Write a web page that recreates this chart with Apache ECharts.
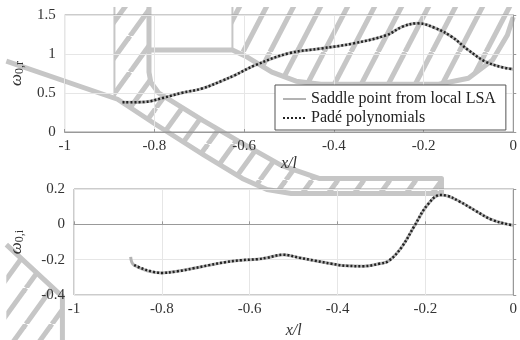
<!DOCTYPE html>
<html><head><meta charset="utf-8">
<script src="https://cdn.jsdelivr.net/npm/echarts@6/dist/echarts.min.js"></script>
<style>html,body{margin:0;padding:0;background:#fff}#c{width:520px;height:340px}</style>
</head><body><div id="c"></div>
<script>
// ---- data (x/l, omega) ----
const topX      = [-0.871,-0.823,-0.779,-0.74,-0.692,-0.648,-0.62,-0.575,-0.5,-0.429,-0.356,-0.282,-0.247,-0.213,-0.173,-0.137,-0.10,-0.063,-0.028,0];
const topPade   = [0.38,0.385,0.44,0.50,0.56,0.66,0.73,0.857,1.01,1.07,1.136,1.243,1.35,1.393,1.33,1.22,1.05,0.905,0.835,0.805];
const botX      = [-0.863,-0.801,-0.765,-0.728,-0.692,-0.655,-0.619,-0.582,-0.560,-0.524,-0.487,-0.451,-0.414,-0.378,-0.341,-0.305,-0.283,-0.254,-0.225,-0.195,-0.166,-0.151,-0.122,-0.086,-0.049,-0.012,0];
const botPade   = [-0.231,-0.275,-0.266,-0.249,-0.231,-0.214,-0.203,-0.197,-0.189,-0.172,-0.189,-0.206,-0.223,-0.235,-0.237,-0.223,-0.206,-0.129,-0.009,0.111,0.166,0.162,0.129,0.077,0.026,0.0,-0.005];
const botSaddleStart = [[-0.871,-0.184]];
const xTickLabels = ['-1','-0.8','-0.6','-0.4','-0.2','0'];
const seriesNames = ['Saddle point from local LSA','Padé polynomials'];

// ---- decorative hatched regions, in top-panel data coordinates ----
const regionAB = [[-0.889,1.603],[-0.812,1.603],[-0.812,0.767],[-0.808,0.639],[-0.790,0.497],[-0.692,0.150],[-0.604,-0.145],[-0.517,-0.428],[-0.433,-0.595],[-0.160,-0.595],[-0.160,-0.788],[-0.495,-0.788],[-0.549,-0.737],[-0.604,-0.595],[-0.692,-0.287],[-0.801,0.112],[-0.882,0.420],[-0.889,0.446]];
const edgeAB   = [[-0.812,1.603],[-0.812,0.767],[-0.808,0.639],[-0.790,0.497],[-0.692,0.150],[-0.604,-0.145],[-0.517,-0.428],[-0.433,-0.595],[-0.160,-0.595],[-0.160,-0.788],[-0.495,-0.788],[-0.549,-0.737],[-0.604,-0.595],[-0.692,-0.287],[-0.801,0.112],[-0.882,0.420],[-1.130,0.909]];
const edgeAthin = [[-0.889,1.603],[-0.889,0.446]];
const regionD  = [[-0.626,1.603],[0,1.603],[0,1.474],[-0.013,1.243],[-0.046,0.922],[-0.100,0.690],[-0.166,0.613],[-0.429,0.613],[-0.484,0.652],[-0.538,0.767],[-0.593,0.960],[-0.626,1.051]];
const edgeD    = [[-0.812,1.051],[-0.626,1.051],[-0.593,0.960],[-0.538,0.767],[-0.484,0.652],[-0.429,0.613],[-0.166,0.613],[-0.100,0.690],[-0.046,0.922],[-0.013,1.243],[0,1.474]];
const edgeDthin = [[-0.626,1.603],[-0.626,1.051]];
const regionC  = [[-1.130,-1.443],[-1.005,-2.111],[-1.005,-2.677],[-1.130,-2.677]];
const edgeC    = [[-1.130,-1.443],[-1.005,-2.111],[-1.005,-2.677]];

const zip = (xs, ys) => xs.map((x, i) => [x, ys[i]]);
const HATCH = '#c6c6c6';
function makePattern(w, h, lw) {
  const c = document.createElement('canvas'); c.width = w; c.height = h;
  const g = c.getContext('2d'); g.strokeStyle = HATCH; g.lineWidth = lw;
  for (const o of [-w, 0, w]) { g.beginPath(); g.moveTo(o, h); g.lineTo(o + w, 0); g.stroke(); }
  return { image: c, repeat: 'repeat' };
}
const patAB = makePattern(26, 36, 5);
const patD = makePattern(27, 52, 5);

const serif = '"Liberation Serif", "DejaVu Serif", "Times New Roman", serif';
const chart = echarts.init(document.getElementById('c'));

function xAx(idx) {
  return {
    gridIndex: idx, type: 'value', min: -1, max: 0, interval: 0.2,
    name: 'x/l', nameLocation: 'middle', nameGap: idx === 0 ? 24 : 28,
    nameTextStyle: { fontFamily: serif, fontStyle: 'italic', fontSize: 16, color: '#333' },
    axisLine: { lineStyle: { color: '#999' } },
    axisTick: { inside: true, length: 3, lineStyle: { color: '#999' } },
    axisLabel: { fontFamily: serif, fontSize: 15, color: '#333', margin: 7,
      formatter: v => xTickLabels[Math.round((v + 1) / 0.2)] },
    splitLine: { show: true, lineStyle: { color: '#e6e6e6' } }
  };
}
function yAx(idx, min, max, sub, gap) {
  return {
    gridIndex: idx, type: 'value', min: min, max: max, interval: idx === 0 ? 0.5 : 0.2,
    name: '{w|ω}{s|' + sub + '}', nameLocation: 'middle', nameGap: gap, nameRotate: 90,
    nameTextStyle: { color: '#333', rich: {
      w: { fontFamily: serif, fontStyle: 'italic', fontSize: 17, color: '#333' },
      s: { fontFamily: serif, fontSize: 12, color: '#333', verticalAlign: 'bottom', padding: [7, 0, 0, 0] } } },
    axisLine: { show: true, lineStyle: { color: '#999' } },
    axisTick: { show: true, inside: true, length: 3, lineStyle: { color: '#999' } },
    axisLabel: { fontFamily: serif, fontSize: 15, color: '#333', margin: 9 },
    splitLine: { show: true, lineStyle: { color: '#e6e6e6' } }
  };
}

function renderDeco(params, api) {
  const P = pts => pts.map(p => api.coord(p));
  const poly = (pts, pat) => ({ type: 'polygon', shape: { points: P(pts) }, style: { fill: pat, stroke: null } });
  const line = (pts, w) => ({ type: 'polyline', shape: { points: P(pts) }, style: { fill: null, stroke: HATCH, lineWidth: w, lineJoin: 'round' } });
  return { type: 'group', children: [
    poly(regionAB, patAB), poly(regionD, patD), poly(regionC, patAB),
    line(edgeAB, 5), line(edgeD, 5), line(edgeC, 5), line(edgeAthin, 2), line(edgeDthin, 2)
  ] };
}

const gray = { color: '#b3b3b3', width: 3 };
const dots = { color: '#222', width: 2.5, type: [2, 2] };

chart.setOption({
  animation: false,
  grid: [
    { left: 59, right: 5, top: 15, height: 117, show: true, borderColor: '#999', borderWidth: 1 },
    { left: 59, right: 5, top: 189, height: 117, show: true, borderColor: '#999', borderWidth: 1 }
  ],
  xAxis: [xAx(0), xAx(1)],
  yAxis: [yAx(0, 0, 1.5, '0,r', 29), yAx(1, -0.4, 0.2, '0,i', 48)],
  legend: {
    data: seriesNames, orient: 'vertical', left: 275, top: 85,
    padding: [6, 10, 4, 7], itemGap: 3, itemWidth: 23, itemHeight: 14,
    itemStyle: { opacity: 0, borderWidth: 0 },
    backgroundColor: '#fff', borderColor: '#555', borderWidth: 1,
    textStyle: { fontFamily: serif, fontSize: 16, color: '#222' }
  },
  series: [
    { type: 'custom', xAxisIndex: 0, yAxisIndex: 0, z: -1, silent: true, clip: false,
      data: [[-0.5, 0.5]], renderItem: renderDeco },
    { name: seriesNames[0], type: 'line', xAxisIndex: 0, yAxisIndex: 0, data: zip(topX, topPade),
      smooth: 0.4, symbol: 'none', lineStyle: gray, itemStyle: { color: '#b3b3b3' } },
    { name: seriesNames[1], type: 'line', xAxisIndex: 0, yAxisIndex: 0, data: zip(topX, topPade),
      smooth: 0.4, symbol: 'none', lineStyle: dots, itemStyle: { color: '#222' } },
    { name: seriesNames[0], type: 'line', xAxisIndex: 1, yAxisIndex: 1, data: botSaddleStart.concat(zip(botX, botPade)),
      smooth: 0.4, symbol: 'none', lineStyle: gray, itemStyle: { color: '#b3b3b3' } },
    { name: seriesNames[1], type: 'line', xAxisIndex: 1, yAxisIndex: 1, data: zip(botX, botPade),
      smooth: 0.4, symbol: 'none', lineStyle: dots, itemStyle: { color: '#222' } }
  ]
});
</script></body></html>
